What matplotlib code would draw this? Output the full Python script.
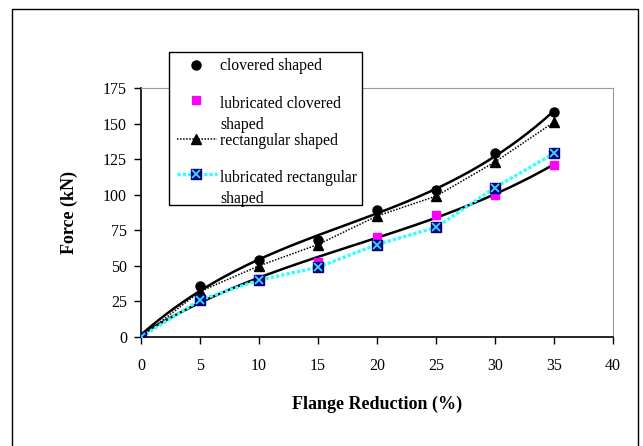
import numpy as np
import matplotlib.pyplot as plt
from matplotlib.lines import Line2D
from matplotlib.patches import Rectangle

plt.rcParams['font.family'] = ['Liberation Serif', 'DejaVu Serif']

reduction = [0, 5, 10, 15, 20, 25, 30, 35]
clovered = [0, 36, 54, 68, 89, 103, 129, 158]
lub_clovered = [0, 28, 41, 53, 70, 86, 100, 121]
rectangular = [0, 32, 50, 65, 85, 99, 123, 151]
lub_rectangular = [0, 26, 40, 49, 65, 77, 105, 129]

x_ticks = [0, 5, 10, 15, 20, 25, 30, 35, 40]
y_ticks = [0, 25, 50, 75, 100, 125, 150, 175]
legend_labels = ['clovered shaped', 'lubricated clovered\nshaped',
                 'rectangular shaped', 'lubricated rectangular\nshaped']

W, H = 643, 446


def px(x, y):
    return x / W, 1 - y / H


fig = plt.figure(figsize=(W / 100, H / 100), dpi=100)
ax = fig.add_axes([0.2193, 0.2444, 0.7340, 0.5583])

# outer chart border
fig.patches.append(Rectangle((12 / W, -0.05), 626 / W, 1 - 9 / H + 0.05,
                             transform=fig.transFigure, fill=False,
                             edgecolor='black', lw=1.0, zorder=0))

# polynomial trendlines for the clovered series
xs = np.linspace(0, 35, 200)
for ys in (clovered, lub_clovered):
    coef = np.polyfit(reduction, ys, 3)
    ax.plot(xs, np.polyval(coef, xs), color='black', lw=1.8, zorder=2)

circ = dict(marker='o', color='black', ms=6.5, ls='none')
sq = dict(marker='s', color='#FF00FF', ms=6, ls='none')
tri = dict(marker='^', color='black', ms=7.5, ls='none')
rect_line = dict(color='black', lw=1.1, ls=(0, (1, 1)))
cyan_line = dict(color='#33FFFF', lw=2.4, ls=(0, (1, 0.6)))
navy = dict(marker='s', color='#000080', ms=7, ls='none')
cross = dict(marker='x', color='#33DDFF', ms=5.5, mew=1.3, ls='none')

ax.plot(reduction, clovered, zorder=4, **circ)
ax.plot(reduction, lub_clovered, zorder=3, **sq)
ax.plot(reduction, rectangular, zorder=2, **rect_line)
ax.plot(reduction, rectangular, zorder=4, **tri)
ax.plot(reduction, lub_rectangular, zorder=2, **cyan_line)
ax.plot(reduction, lub_rectangular, zorder=4, **navy)
ax.plot(reduction, lub_rectangular, zorder=5, **cross)

ax.set_xlim(0, 40)
ax.set_ylim(0, 175)
ax.set_xticks(x_ticks)
ax.set_yticks(y_ticks)
ax.tick_params(direction='out', length=5, width=1, labelsize=11.5, pad=5)
ax.tick_params(axis='x', pad=10)
for s in ('top', 'right'):
    ax.spines[s].set_color('#999999')
for s in ('left', 'bottom'):
    ax.spines[s].set_linewidth(1.2)

ax.set_xlabel('Flange Reduction (%)', fontsize=13, fontweight='bold', labelpad=16)
ax.set_ylabel('Force (kN)', fontsize=13, fontweight='bold', labelpad=18)

# legend box, drawn by hand to follow the original layout
fig.patches.append(Rectangle(px(169, 205), 193 / W, 153 / H,
                             transform=fig.transFigure, facecolor='white',
                             edgecolor='black', lw=1.0, zorder=6))
text_y = [66, 104, 141, 178]
mark_y = [65, 100, 139, 174]
handles = [[circ], [sq], [rect_line, tri], [cyan_line, navy, cross]]
for lbl, ty, my, hs in zip(legend_labels, text_y, mark_y, handles):
    fig.text(*px(220, ty - 8), lbl, fontsize=11.3, va='top', ha='left',
             linespacing=1.45, zorder=7)
    for h in hs:
        if h.get('marker') is None:
            xx = [177 / W, 217 / W]
        else:
            xx = [196 / W]
        fig.add_artist(Line2D(xx, [1 - my / H] * len(xx),
                              transform=fig.transFigure, zorder=8, **h))

fig.savefig('out.png', dpi=100)
